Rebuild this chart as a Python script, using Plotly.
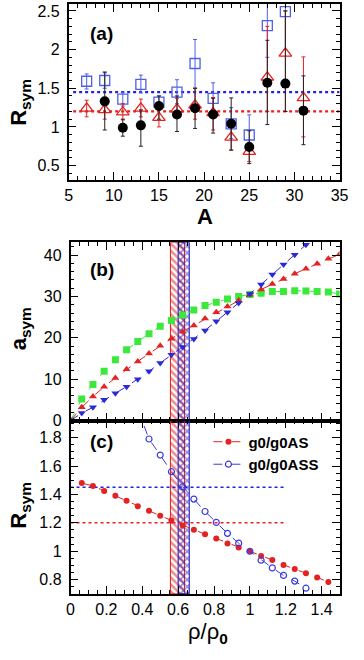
import plotly.graph_objects as go

W, H = 364, 660

# ---------------- data: panel (a) ----------------
A_vals = [7, 9, 11, 13, 15, 17, 19, 21, 23, 25, 27, 29, 31]
a_blue = [1.59, 1.60, 1.36, 1.55, 1.32, 1.45, 1.82, 1.37, 1.04, 0.895, 2.31, 2.49, None]
a_blue_hi = [1.685, 1.70, 1.45, 1.67, 1.40, 1.61, 2.13, 1.57, 1.25, 1.155, 2.70, 2.90, None]
a_blue_lo = [1.49, 1.50, 1.27, 1.44, 1.22, 1.30, 1.50, 1.18, 0.85, 0.70, 1.90, 2.00, None]

a_red = [1.24, 1.22, 1.19, 1.24, 1.12, 1.23, 1.28, 1.18, 0.865, 0.68, 1.64, 1.95, 1.375]
a_red_hi = [1.345, 1.33, 1.30, 1.36, 1.22, 1.37, 1.50, 1.38, 1.05, 0.80, 2.30, 2.50, 1.905]
a_red_lo = [1.13, 1.10, 1.09, 1.13, 1.00, 1.12, 1.10, 0.96, 0.70, 0.55, 1.20, 1.20, 0.87]

a_black = [None, 1.33, 0.99, 1.02, 1.27, 1.16, 1.24, 1.16, 1.04, 0.74, 1.57, 1.56, 1.21]
a_black_hi = [None, 1.71, 1.10, 1.22, 1.40, 1.40, 1.50, 1.37, 1.375, 0.95, 2.12, 2.50, 1.66]
a_black_lo = [None, 0.96, 0.88, 0.75, 1.10, 0.94, 0.98, 0.92, 0.70, 0.525, 1.03, 1.20, 0.77]

ref_lines_A = [5.5, 35]
ref_blue = 1.45
ref_red = 1.2

# ---------------- data: panel (b) ----------------
rho_b = [0, 0.0625, 0.125, 0.1875, 0.25, 0.3125, 0.375, 0.4375, 0.5, 0.5625,
         0.625, 0.6875, 0.75, 0.8125, 0.875, 0.9375, 1.0, 1.0625, 1.125, 1.1875,
         1.25, 1.3125, 1.375, 1.4375, 1.5]
b_green = [0, 5.2, 8.7, 11.9, 14.7, 17.1, 19.1, 21.0, 22.8, 24.2, 25.5, 26.7, 27.8,
           28.6, 29.4, 30.0, 30.5, 30.8, 31.2, 31.2, 31.4, 31.3, 31.2, 31.1, 30.6]
b_red = [0, 3.2, 5.8, 8.2, 10.3, 12.4, 14.3, 16.2, 18.1, 19.8, 21.5, 23.0, 24.7,
         26.2, 27.6, 29.0, 30.4, 31.7, 33.0, 34.2, 35.5, 36.7, 37.9, 39.1, 40.2]
b_blue = [0, 1.8, 3.2, 5.0, 6.6, 8.2, 10.0, 11.9, 13.9, 15.9, 17.8, 19.7, 21.8,
          24.0, 26.2, 28.4, 30.6, 32.9, 35.3, 37.7, 40.1, 42.5, 44.9]

# ---------------- data: panel (c) ----------------
rho_c_red = [0.0625, 0.125, 0.1875, 0.25, 0.3125, 0.375, 0.4375, 0.5, 0.5625,
             0.625, 0.6875, 0.75, 0.8125, 0.875, 0.9375, 1.0, 1.0625, 1.125, 1.1875,
             1.25, 1.3125, 1.375, 1.4375]
c_red = [1.48, 1.46, 1.425, 1.39, 1.356, 1.316, 1.286, 1.25, 1.217, 1.182, 1.152,
         1.12, 1.09, 1.055, 1.027, 1.0, 0.967, 0.939, 0.904, 0.876, 0.846, 0.816, 0.784]
rho_c_blue = [0.375, 0.4375, 0.5, 0.5625, 0.625, 0.6875, 0.75, 0.8125, 0.875,
              0.9375, 1.0, 1.0625, 1.125, 1.1875, 1.25, 1.3125]
c_blue = [2.0, 1.79, 1.677, 1.56, 1.455, 1.367, 1.28, 1.203, 1.126, 1.057, 1.0,
          0.937, 0.883, 0.83, 0.79, 0.74]
c_ref_rho = [0, 1.2]

band_red = [0.557, 0.635]
band_blue = [0.60, 0.662]

legend_names = ["g0/g0AS", "g0/g0ASS"]

# axis ranges
xa_range = [5, 35]
ya_range = [0.31, 2.59]
xbc_range = [0, 1.5]
yb_range = [0, 43.1]
yc_range = [0.7, 1.92]

# ---------------- helpers ----------------
def px(p):
    return p / W

def py(p):
    return 1 - p / H

def errs(v, hi, lo):
    up = [None if x is None else h - x for x, h in zip(v, hi)]
    dn = [None if x is None else x - l for x, l in zip(v, lo)]
    return up, dn

RED = "#e32222"
BLUE_A = "#4f5fe6"
BLUE = "#2a2ad8"
GREEN = "#3ce83c"

fig = go.Figure()

# ---- panel (a) ----
fig.add_trace(go.Scatter(x=ref_lines_A, y=[ref_blue, ref_blue], mode="lines",
                         line=dict(color="#2020e8", width=2.2, dash="dot"),
                         xaxis="x", yaxis="y", showlegend=False, hoverinfo="skip"))
fig.add_trace(go.Scatter(x=ref_lines_A, y=[ref_red, ref_red], mode="lines",
                         line=dict(color="#e82020", width=2.2, dash="dot"),
                         xaxis="x", yaxis="y", showlegend=False, hoverinfo="skip"))

up, dn = errs(a_blue, a_blue_hi, a_blue_lo)
fig.add_trace(go.Scatter(x=A_vals, y=a_blue, mode="markers",
                         marker=dict(symbol="square-open", size=10, color=BLUE_A,
                                     line=dict(width=1.3)),
                         error_y=dict(type="data", symmetric=False, array=up, arrayminus=dn,
                                      color=BLUE_A, thickness=1, width=2),
                         xaxis="x", yaxis="y", showlegend=False))
up, dn = errs(a_red, a_red_hi, a_red_lo)
fig.add_trace(go.Scatter(x=A_vals, y=a_red, mode="markers",
                         marker=dict(symbol="triangle-up-open", size=11, color=RED,
                                     line=dict(width=1.3)),
                         error_y=dict(type="data", symmetric=False, array=up, arrayminus=dn,
                                      color=RED, thickness=1, width=2),
                         xaxis="x", yaxis="y", showlegend=False))
up, dn = errs(a_black, a_black_hi, a_black_lo)
fig.add_trace(go.Scatter(x=A_vals, y=a_black, mode="markers",
                         marker=dict(symbol="circle", size=10, color="black"),
                         error_y=dict(type="data", symmetric=False, array=up, arrayminus=dn,
                                      color="#222222", thickness=1, width=2),
                         xaxis="x", yaxis="y", showlegend=False))

# ---- hatched bands in (b) and (c) ----
for xa_, ya_, yr in (("x2", "y2", yb_range), ("x3", "y3", yc_range)):
    for band, col, shp in ((band_red, "#e01818", "\\"), (band_blue, "#1818c0", "x")):
        fig.add_trace(go.Scatter(
            x=[band[0], band[1], band[1], band[0], band[0]],
            y=[yr[0], yr[0], yr[1], yr[1], yr[0]],
            mode="lines", fill="toself",
            line=dict(color=col, width=1),
            fillcolor="rgba(0,0,0,0)",
            fillpattern=dict(shape=shp, fgcolor=col, bgcolor="rgba(255,255,255,0)",
                             size=5, solidity=0.5),
            xaxis=xa_, yaxis=ya_, showlegend=False, hoverinfo="skip"))

# ---- panel (b) ----
fig.add_trace(go.Scatter(x=rho_b, y=b_green, mode="lines+markers",
                         line=dict(color=GREEN, width=1, dash="dash"),
                         marker=dict(symbol="square", size=7, color=GREEN),
                         xaxis="x2", yaxis="y2", showlegend=False))
fig.add_trace(go.Scatter(x=rho_b, y=b_red, mode="lines+markers",
                         line=dict(color=RED, width=1, dash="dash"),
                         marker=dict(symbol="triangle-up", size=7, color=RED),
                         xaxis="x2", yaxis="y2", showlegend=False))
fig.add_trace(go.Scatter(x=rho_b[:len(b_blue)], y=b_blue, mode="lines+markers",
                         line=dict(color=BLUE, width=1, dash="dash"),
                         marker=dict(symbol="triangle-down", size=7, color=BLUE),
                         xaxis="x2", yaxis="y2", showlegend=False, cliponaxis=True))

# ---- panel (c) ----
fig.add_trace(go.Scatter(x=c_ref_rho, y=[ref_blue, ref_blue], mode="lines",
                         line=dict(color="#2020e8", width=1.5, dash="dot"),
                         xaxis="x3", yaxis="y3", showlegend=False, hoverinfo="skip"))
fig.add_trace(go.Scatter(x=c_ref_rho, y=[ref_red, ref_red], mode="lines",
                         line=dict(color="#e82020", width=1.5, dash="dot"),
                         xaxis="x3", yaxis="y3", showlegend=False, hoverinfo="skip"))
fig.add_trace(go.Scatter(x=rho_c_red, y=c_red, mode="lines+markers",
                         name="<b>" + legend_names[0] + "</b>",
                         line=dict(color=RED, width=1, dash="dash"),
                         marker=dict(symbol="circle", size=6, color=RED),
                         xaxis="x3", yaxis="y3", showlegend=True))
fig.add_trace(go.Scatter(x=rho_c_blue, y=c_blue, mode="lines+markers",
                         name="<b>" + legend_names[1] + "</b>",
                         line=dict(color="#3a3ae0", width=1, dash="dash"),
                         marker=dict(symbol="circle-open", size=6, color="#3a3ae0",
                                     line=dict(width=1.2)),
                         xaxis="x3", yaxis="y3", showlegend=True))

FONT = "Liberation Sans"
tickfont = dict(family=FONT, size=16, color="black")

def axis_common(**kw):
    d = dict(showline=True, linecolor="black", linewidth=1.5, mirror="allticks",
             ticks="inside", ticklen=8, tickwidth=1, tickcolor="black",
             showgrid=False, zeroline=False, tickfont=tickfont)
    d.update(kw)
    return d

layout_axes = dict(
    xaxis=axis_common(domain=[px(67), px(348)], range=xa_range, anchor="y",
                      dtick=5, tick0=5,
                      minor=dict(ticks="inside", dtick=1, ticklen=4, tickcolor="black")),
    yaxis=axis_common(domain=[py(182), py(3)], range=ya_range, anchor="x",
                      tickvals=[0.5, 1, 1.5, 2, 2.5], ticktext=["0.5", "1", "1.5", "2", "2.5"],
                      ticklabelstandoff=4,
                      minor=dict(ticks="inside", dtick=0.1, tick0=0, ticklen=4, tickcolor="black")),
    xaxis2=axis_common(domain=[px(69), px(348)], range=xbc_range, anchor="y2",
                       dtick=0.2, showticklabels=False, matches="x3",
                       minor=dict(ticks="inside", dtick=0.05, ticklen=4, tickcolor="black")),
    yaxis2=axis_common(domain=[py(426), py(245)], range=yb_range, anchor="x2",
                       dtick=10, ticklabelstandoff=4,
                       minor=dict(ticks="inside", dtick=2, ticklen=4, tickcolor="black")),
    xaxis3=axis_common(domain=[px(69), px(348)], range=xbc_range, anchor="y3",
                       tickvals=[0, 0.2, 0.4, 0.6, 0.8, 1, 1.2, 1.4],
                       ticktext=["0", "0.2", "0.4", "0.6", "0.8", "1", "1.2", "1.4"],
                       minor=dict(ticks="inside", dtick=0.05, ticklen=4, tickcolor="black")),
    yaxis3=axis_common(domain=[py(602), py(426)], range=yc_range, anchor="x3",
                       tickvals=[0.8, 1, 1.2, 1.4, 1.6, 1.8],
                       ticktext=["0.8", "1", "1.2", "1.4", "1.6", "1.8"],
                       ticklabelstandoff=4,
                       minor=dict(ticks="inside", dtick=0.05, tick0=0, ticklen=4, tickcolor="black")),
)

def ann(text, x, y, size, angle=0):
    return dict(text=text, x=px(x), y=py(y), xref="paper", yref="paper",
                showarrow=False, xanchor="center", yanchor="middle", textangle=angle,
                font=dict(family=FONT, size=size, color="black"))

annotations = [
    ann("<b>(a)</b>", 101, 33, 19),
    ann("<b>(b)</b>", 102, 273, 19),
    ann("<b>(c)</b>", 101, 447, 19),
    ann("<b>R<sub>sym</sub></b>", 17, 103, 22, -90),
    ann("<b>a<sub>sym</sub></b>", 17, 333, 22, -90),
    ann("<b>R<sub>sym</sub></b>", 17, 512, 22, -90),
    ann("<b>A</b>", 208, 219, 22),
    ann("ρ/ρ<sub><b>0</b></sub>", 212, 642, 22),
]

fig.update_layout(
    width=W, height=H,
    margin=dict(l=0, r=0, t=0, b=0),
    paper_bgcolor="white", plot_bgcolor="white",
    annotations=annotations,
    legend=dict(x=px(212), y=py(431), xanchor="left", yanchor="top",
                bgcolor="rgba(0,0,0,0)", borderwidth=0,
                font=dict(family=FONT, size=15, color="black"),
                tracegroupgap=0, itemwidth=30),
    **layout_axes,
)

fig.write_html("out.html", config={"displayModeBar": False},
               post_script="document.body.style.margin='0';document.body.style.overflow='hidden';")
